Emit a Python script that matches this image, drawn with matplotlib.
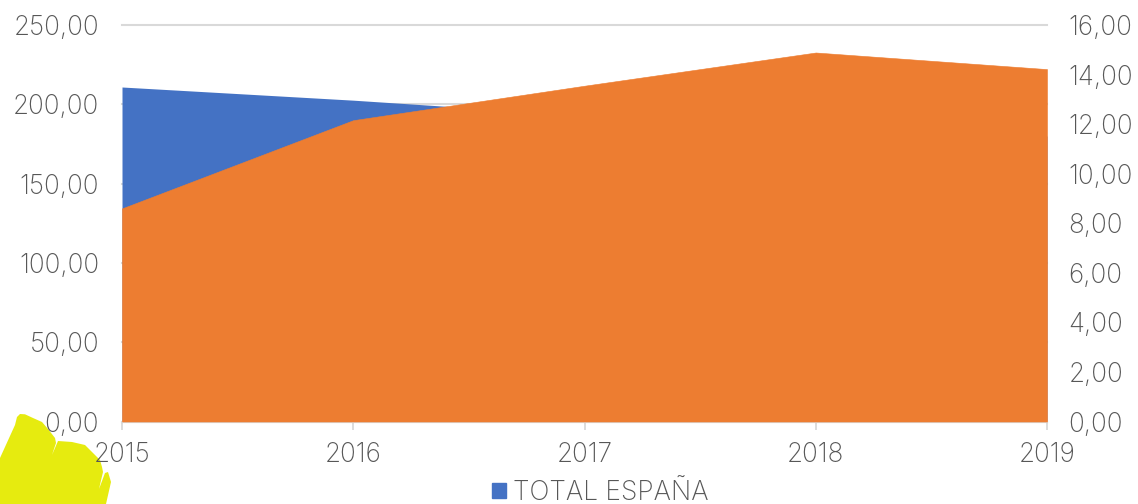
import matplotlib
matplotlib.use("Agg")
import matplotlib.pyplot as plt
from matplotlib.patches import Polygon, Rectangle

years = ["2015", "2016", "2017", "2018", "2019"]
total_espana = [210.9, 202.6, 193.0, 185.0, 180.0]
second_series = [8.6, 12.16, 13.55, 14.89, 14.22]
left_ticks = [0, 50, 100, 150, 200, 250]
right_ticks = [0, 2, 4, 6, 8, 10, 12, 14, 16]
legend_label = "TOTAL ESPAÑA"

W, H = 1138, 504
plt.rcParams['font.family'] = ['Inter', 'Lato', 'DejaVu Sans']
TXT = '#575757'
GRID = '#d9d9d9'
FS = 18.8

fig = plt.figure(figsize=(W/100, H/100), dpi=100, facecolor='white')
ax = fig.add_axes([122/W, 1-421.5/H, (1047-122)/W, (421.5-25)/H])
ax2 = ax.twinx()
x = list(range(len(years)))

ax.set_xlim(0, 4); ax.set_ylim(0, 250)
ax2.set_ylim(0, 16)
ax.fill_between(x, total_espana, 0, color='#4472c4', lw=0, zorder=3)
ax2.fill_between(x, second_series, 0, facecolor='#ed7d31', edgecolor='#ed7d31', lw=0.4, zorder=3)

ax.set_yticks(left_ticks)
ax.set_yticklabels([f"{v:.2f}".replace('.', ',') for v in left_ticks])
ax2.set_yticks(right_ticks)
ax2.set_yticklabels([f"{v:.2f}".replace('.', ',') for v in right_ticks])
ax.set_xticks(x); ax.set_xticklabels(years)
ax.grid(axis='y', color=GRID, lw=1.5, zorder=1)
for gl in ax.get_ygridlines():
    gl.set_clip_on(False)
ax.set_axisbelow(True)
for a in (ax, ax2):
    for s in a.spines.values():
        s.set_visible(False)
    a.patch.set_alpha(0)
ax.spines['bottom'].set_visible(True)
ax.spines['bottom'].set_color(GRID)
ax.spines['bottom'].set_linewidth(1.5)
ax.spines['bottom'].set_zorder(5)
ax.tick_params(axis='y', length=0, pad=16.5, labelsize=FS, labelcolor=TXT)
ax.tick_params(axis='x', length=6, width=1.3, color=GRID, pad=8.5, labelsize=FS, labelcolor=TXT)
ax2.tick_params(axis='y', length=0, pad=15.5, labelsize=FS, labelcolor=TXT)
for lab in ax.get_yticklabels() + ax.get_xticklabels() + ax2.get_yticklabels():
    lab.set_fontweight('light')
    lab.set_clip_on(False)

fig.legend(handles=[Rectangle((0, 0), 1, 1, color='#4472c4')], labels=[legend_label],
           loc='center', bbox_to_anchor=(600.5/W, 1-493/H), frameon=False,
           prop={'size': 19.0, 'weight': 'light'}, labelcolor=TXT,
           handlelength=0.52, handleheight=0.52, handletextpad=0.27, borderpad=0)

# yellow highlighter blob lying under the text in the lower-left corner
blob = [(0,458),(15,425),(17,417),(20,414),(25,414.3),(33,418),(42,422),(48,429),(55,438),(56,443),
        (52,455),(58,441),(72,442),(85,445),(92,452),(100,460),(102,467),(103,472),(99,489),
        (105,473),(108,472),(111,482),(106,504),(0,504)]
fig.add_artist(Polygon([(px/W, 1-py/H) for px, py in blob], closed=True,
                       transform=fig.transFigure, facecolor='#e6eb0f', edgecolor='none', zorder=-1))
fig.savefig('out.png', dpi=100)
